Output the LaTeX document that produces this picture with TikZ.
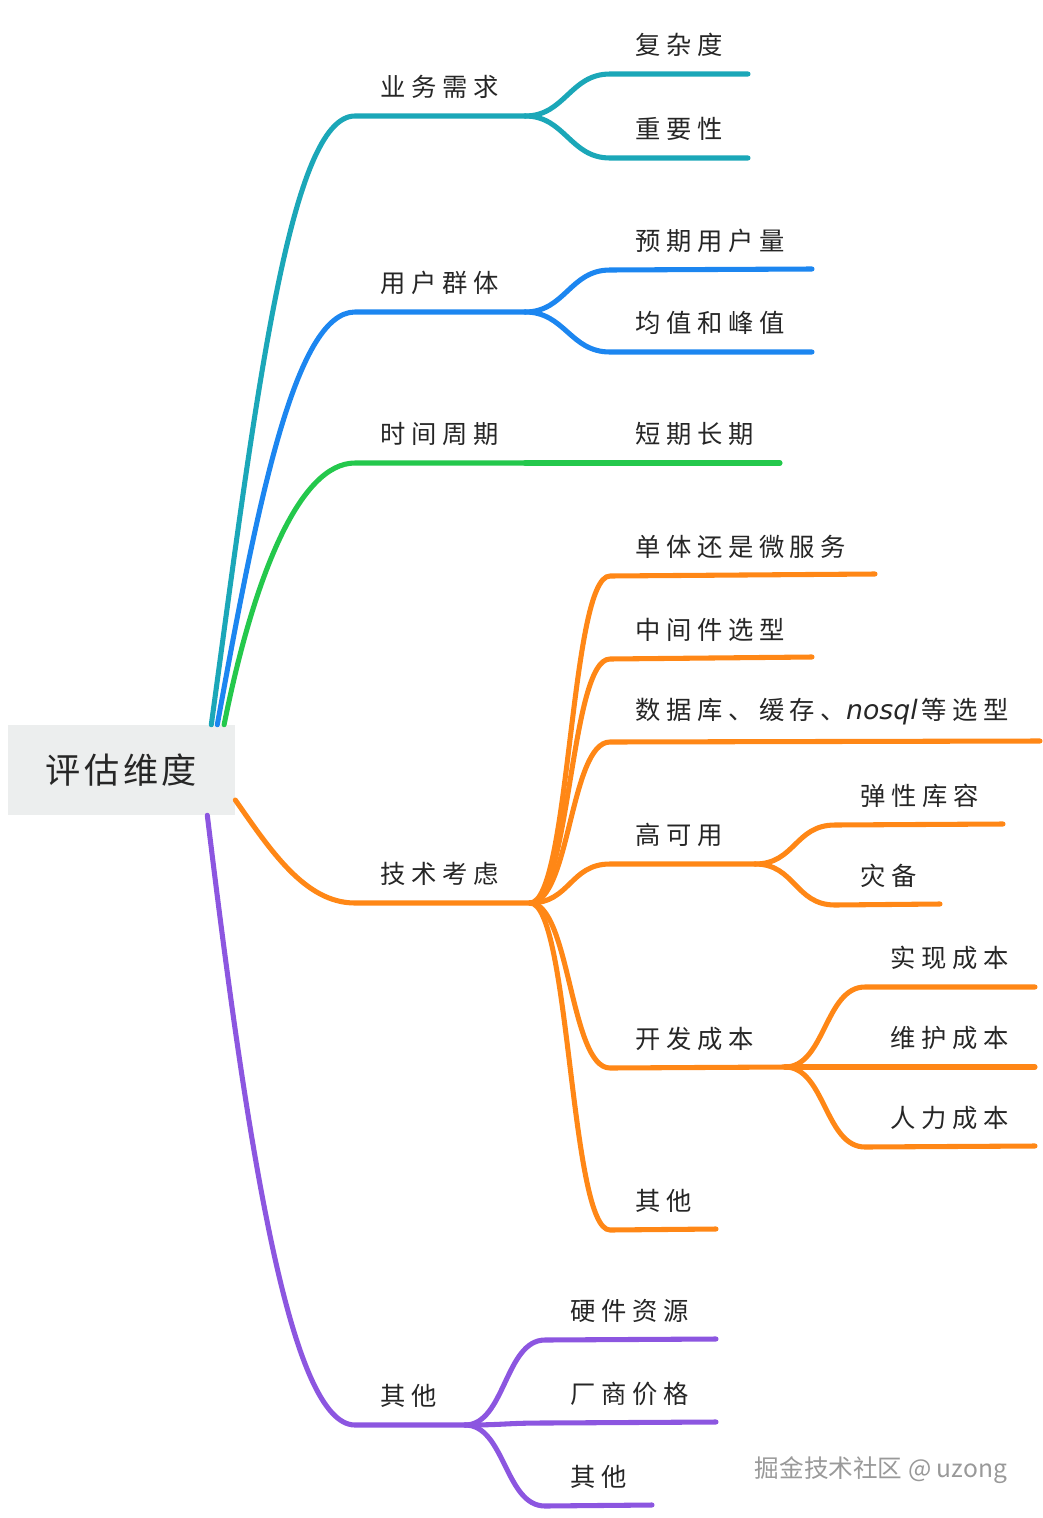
\documentclass[tikz,border=0pt]{standalone}
\usepackage{fontspec}
\usepackage{xcolor}
\setmainfont{Noto Sans CJK SC}
\newfontfamily\labelfont[LetterSpace=22]{Noto Sans CJK SC}
\newfontfamily\rootfont[LetterSpace=10]{Noto Sans CJK SC}
\newfontfamily\nosqlfont{DejaVu Sans}
\usetikzlibrary{positioning}
\definecolor{brteal}{RGB}{27,167,184}
\definecolor{brblue}{RGB}{28,134,240}
\definecolor{brgreen}{RGB}{36,200,76}
\definecolor{brorange}{RGB}{255,135,22}
\definecolor{brpurple}{RGB}{140,86,224}
\definecolor{rootgray}{RGB}{236,238,238}

\begin{document}
\begin{tikzpicture}[x=0.025cm,y=-0.025cm,
  br/.style={line width=3.6pt,line cap=round,line join=round},
  kid/.style={out=0,in=180,distance=1cm},
  lbl/.style={inner sep=0pt,text=black!85,font=\labelfont\fontsize{18}{20}\selectfont},
  node distance=12pt and 18pt]
\useasboundingbox (0,0) rectangle (1043,1518);
\node[fill=rootgray,minimum width=5.675cm,minimum height=2.25cm,inner sep=0pt,text=black!85,
  font=\rootfont\fontsize{25}{28}\selectfont] (root) at (121.5,770) {评估维度};
% underline ends
\coordinate (ywA) at (355,116); \coordinate (ywB) at (525,116);
\coordinate (fzA) at (610,74);  \coordinate (fzB) at (748,74);
\coordinate (zyA) at (610,158); \coordinate (zyB) at (748,158);
\coordinate (yhA) at (355,312); \coordinate (yhB) at (525,312);
\coordinate (yqA) at (610,270); \coordinate (yqB) at (812,269);
\coordinate (jzA) at (610,352); \coordinate (jzB) at (812,352);
\coordinate (sjA) at (355,463); \coordinate (sjB) at (525,463);
\coordinate (dqA) at (610,463); \coordinate (dqB) at (780,463);
\coordinate (jsA) at (355,903); \coordinate (jsB) at (530,903);
\coordinate (dtA) at (610,576); \coordinate (dtB) at (875,574);
\coordinate (zjA) at (610,659); \coordinate (zjB) at (812,657);
\coordinate (sjkA) at (610,742); \coordinate (sjkB) at (1040,741);
\coordinate (gkA) at (610,864); \coordinate (gkB) at (755,864);
\coordinate (txA) at (835,825); \coordinate (txB) at (1003,824);
\coordinate (zbA) at (835,905); \coordinate (zbB) at (940,904);
\coordinate (kfA) at (610,1068); \coordinate (kfB) at (785,1067);
\coordinate (sxA) at (865,987); \coordinate (sxB) at (1035,987);
\coordinate (whA) at (865,1067); \coordinate (whB) at (1035,1067);
\coordinate (rlA) at (865,1147); \coordinate (rlB) at (1035,1146);
\coordinate (qtA) at (610,1230); \coordinate (qtB) at (716,1229);
\coordinate (otA) at (355,1425); \coordinate (otB) at (465,1425);
\coordinate (yjA) at (545,1340); \coordinate (yjB) at (716,1339);
\coordinate (csA) at (545,1423); \coordinate (csB) at (716,1422);
\coordinate (oqA) at (545,1506); \coordinate (oqB) at (652,1505);
% labels
\node[lbl,above right=of ywA] (yw) {业务需求};
\node[lbl,above right=of fzA] (fz) {复杂度};
\node[lbl,above right=of zyA] (zy) {重要性};
\node[lbl,above right=of yhA] (yh) {用户群体};
\node[lbl,above right=of yqA] (yq) {预期用户量};
\node[lbl,above right=of jzA] (jz) {均值和峰值};
\node[lbl,above right=of sjA] (sj) {时间周期};
\node[lbl,above right=of dqA] (dq) {短期长期};
\node[lbl,above right=of jsA] (js) {技术考虑};
\node[lbl,above right=of dtA] (dt) {单体还是微服务};
\node[lbl,above right=of zjA] (zj) {中间件选型};
\node[lbl,above right=of sjkA] (sjk) {数据库、缓存、{\nosqlfont\itshape\fontsize{19}{20}\selectfont nosql\kern3pt}等选型};
\node[lbl,above right=of gkA] (gk) {高可用};
\node[lbl,above right=of txA] (tx) {弹性库容};
\node[lbl,above right=of zbA] (zb) {灾备};
\node[lbl,above right=of kfA] (kf) {开发成本};
\node[lbl,above right=of sxA] (sx) {实现成本};
\node[lbl,above right=of whA] (wh) {维护成本};
\node[lbl,above right=of rlA] (rl) {人力成本};
\node[lbl,above right=of qtA] (qt) {其他};
\node[lbl,above right=of otA] (ot) {其他};
\node[lbl,above right=of yjA] (yj) {硬件资源};
\node[lbl,above right=of csA] (cs) {厂商价格};
\node[lbl,above right=of oqA] (oq) {其他};
% branches
\draw[br,brteal] ([xshift=-0.6cm]root.north east) .. controls +(45,-330) and +(-65,0) .. (ywA) -- (ywB);
\draw[br,brteal] (ywB) to[kid] (fzA) -- (fzB);
\draw[br,brteal] (ywB) to[kid] (zyA) -- (zyB);
\draw[br,brblue] ([xshift=-0.45cm]root.north east) .. controls +(40,-220) and +(-60,0) .. (yhA) -- (yhB);
\draw[br,brblue] (yhB) to[kid] (yqA) -- (yqB);
\draw[br,brblue] (yhB) to[kid] (jzA) -- (jzB);
\draw[br,brgreen] ([xshift=-0.28cm]root.north east) .. controls +(30,-150) and +(-55,0) .. (sjA) -- (sjB);
\draw[br,brgreen] (sjB) -- (dqA) -- (dqB);
\draw[br,brorange] ([yshift=-0.75cm]root.east) .. controls +(35,50) and +(-50,0) .. (jsA) -- (jsB);
\draw[br,brorange] (jsB) to[kid] (dtA) -- (dtB);
\draw[br,brorange] (jsB) to[kid] (zjA) -- (zjB);
\draw[br,brorange] (jsB) to[kid] (sjkA) -- (sjkB);
\draw[br,brorange] (jsB) to[kid] (gkA) -- (gkB);
\draw[br,brorange] (gkB) to[kid] (txA) -- (txB);
\draw[br,brorange] (gkB) to[kid] (zbA) -- (zbB);
\draw[br,brorange] (jsB) to[kid] (kfA) -- (kfB);
\draw[br,brorange] (kfB) to[kid] (sxA) -- (sxB);
\draw[br,brorange] (kfB) to[kid] (whA) -- (whB);
\draw[br,brorange] (kfB) to[kid] (rlA) -- (rlB);
\draw[br,brorange] (jsB) to[kid] (qtA) -- (qtB);
\draw[br,brpurple] ([xshift=-0.7cm]root.south east) .. controls +(40,330) and +(-65,0) .. (otA) -- (otB);
\draw[br,brpurple] (otB) to[kid] (yjA) -- (yjB);
\draw[br,brpurple] (otB) to[kid] (csA) -- (csB);
\draw[br,brpurple] (otB) to[kid] (oqA) -- (oqB);
\node[text=black!40,font=\fontsize{17.5}{20}\selectfont] (mark) at (881,1470) {掘金技术社区 @ uzong};
\end{tikzpicture}
\end{document}
